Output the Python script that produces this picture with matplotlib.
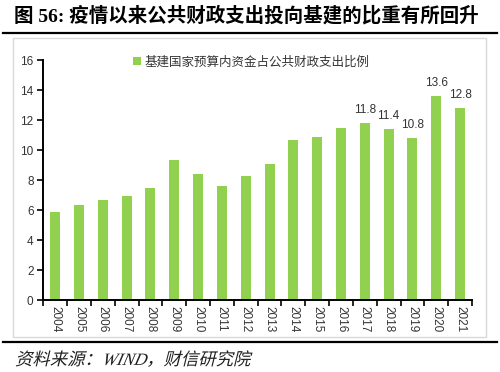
import matplotlib
matplotlib.use('Agg')
import matplotlib.pyplot as plt
from matplotlib.patches import Rectangle, PathPatch
from matplotlib.lines import Line2D
from matplotlib.textpath import TextPath
from matplotlib.font_manager import FontProperties
from matplotlib.transforms import Affine2D, IdentityTransform

# data
years = ['2004', '2005', '2006', '2007', '2008', '2009', '2010', '2011', '2012',
         '2013', '2014', '2015', '2016', '2017', '2018', '2019', '2020', '2021']
share = [5.9, 6.35, 6.7, 6.95, 7.5, 9.35, 8.4, 7.6, 8.3,
         9.05, 10.7, 10.85, 11.5, 11.8, 11.4, 10.8, 13.6, 12.8]
labelled = ['2017', '2018', '2019', '2020', '2021']
yticks = [0, 2, 4, 6, 8, 10, 12, 14, 16]

series_name = '基建国家预算内资金占公共财政支出比例'
title = '图 56: 疫情以来公共财政支出投向基建的比重有所回升'
source = '资料来源：WIND，财信研究院'

green = '#92D050'
txt = '#333333'
cjk = ['Liberation Serif', 'Noto Sans CJK SC']
DPI = 100

fig = plt.figure(figsize=(5, 3.72), dpi=DPI)

# outer decoration: title, rules, light frame round the chart
fig.text(0.028, 0.957, title, family=cjk, fontweight='bold', fontsize=14,
         ha='left', va='center', color='black')
fig.add_artist(Line2D([0.006, 0.994], [0.912, 0.912], color='black', lw=1.6))
fig.add_artist(Rectangle((0.026, 0.094), 0.946, 0.8046, fill=False,
                         edgecolor='#D9D9D9', lw=1))
fig.add_artist(Line2D([0.006, 0.994], [0.0815, 0.0815], color='black', lw=1.6))

# source line, slanted by hand since the CJK font has no italic
src_path = TextPath((0, 0), source, size=12.5,
                    prop=FontProperties(family=cjk, style='italic'))
src_tr = Affine2D().skew_deg(14, 0).scale(DPI / 72).translate(15, 7)
fig.add_artist(PathPatch(src_tr.transform_path(src_path), transform=IdentityTransform(),
                         facecolor='#222222', edgecolor='none'))

ax = fig.add_axes([0.0866, 0.1935, 0.8574, 0.6452])
x = list(range(len(years)))
bars = ax.bar(x, share, width=0.42, color=green, label=series_name, zorder=2)

for xi, yr, v in zip(x, years, share):
    if yr in labelled:
        ax.annotate(f'{v:.1f}', (xi, v), xytext=(0, 5), textcoords='offset points',
                    ha='center', va='bottom', fontsize=8.5, color=txt,
                    family='Liberation Sans')

ax.set_xlim(-0.5, len(years) - 0.5)
ax.set_ylim(0, 16)
ax.set_yticks(yticks)
ax.set_yticklabels([str(t) for t in yticks], family='Liberation Sans', fontsize=8.5, color=txt)

# category boundaries carry the tick marks, labels sit in the middle
ax.set_xticks([i - 0.5 for i in range(len(years) + 1)])
ax.set_xticklabels([])
ax.set_xticks(x, minor=True)
ax.set_xticklabels(years, minor=True, rotation=270, family='Liberation Sans',
                   fontsize=8.5, color=txt)
ax.tick_params(axis='x', which='minor', length=0, pad=4)
ax.tick_params(axis='x', which='major', length=4, width=1.2, direction='out')
ax.tick_params(axis='y', length=4, width=1.2, direction='out', pad=3)

for side in ['top', 'right']:
    ax.spines[side].set_visible(False)
for side in ['left', 'bottom']:
    ax.spines[side].set_linewidth(1.4)
    ax.spines[side].set_color('black')

leg = ax.legend(loc='center', bbox_to_anchor=(0.503, 0.833),
                bbox_transform=fig.transFigure, frameon=False,
                handlelength=0.6, handleheight=0.6, handletextpad=0.3,
                prop={'family': 'Noto Sans CJK SC', 'size': 9})
for t in leg.get_texts():
    t.set_color(txt)

fig.savefig('out.png', dpi=DPI)
